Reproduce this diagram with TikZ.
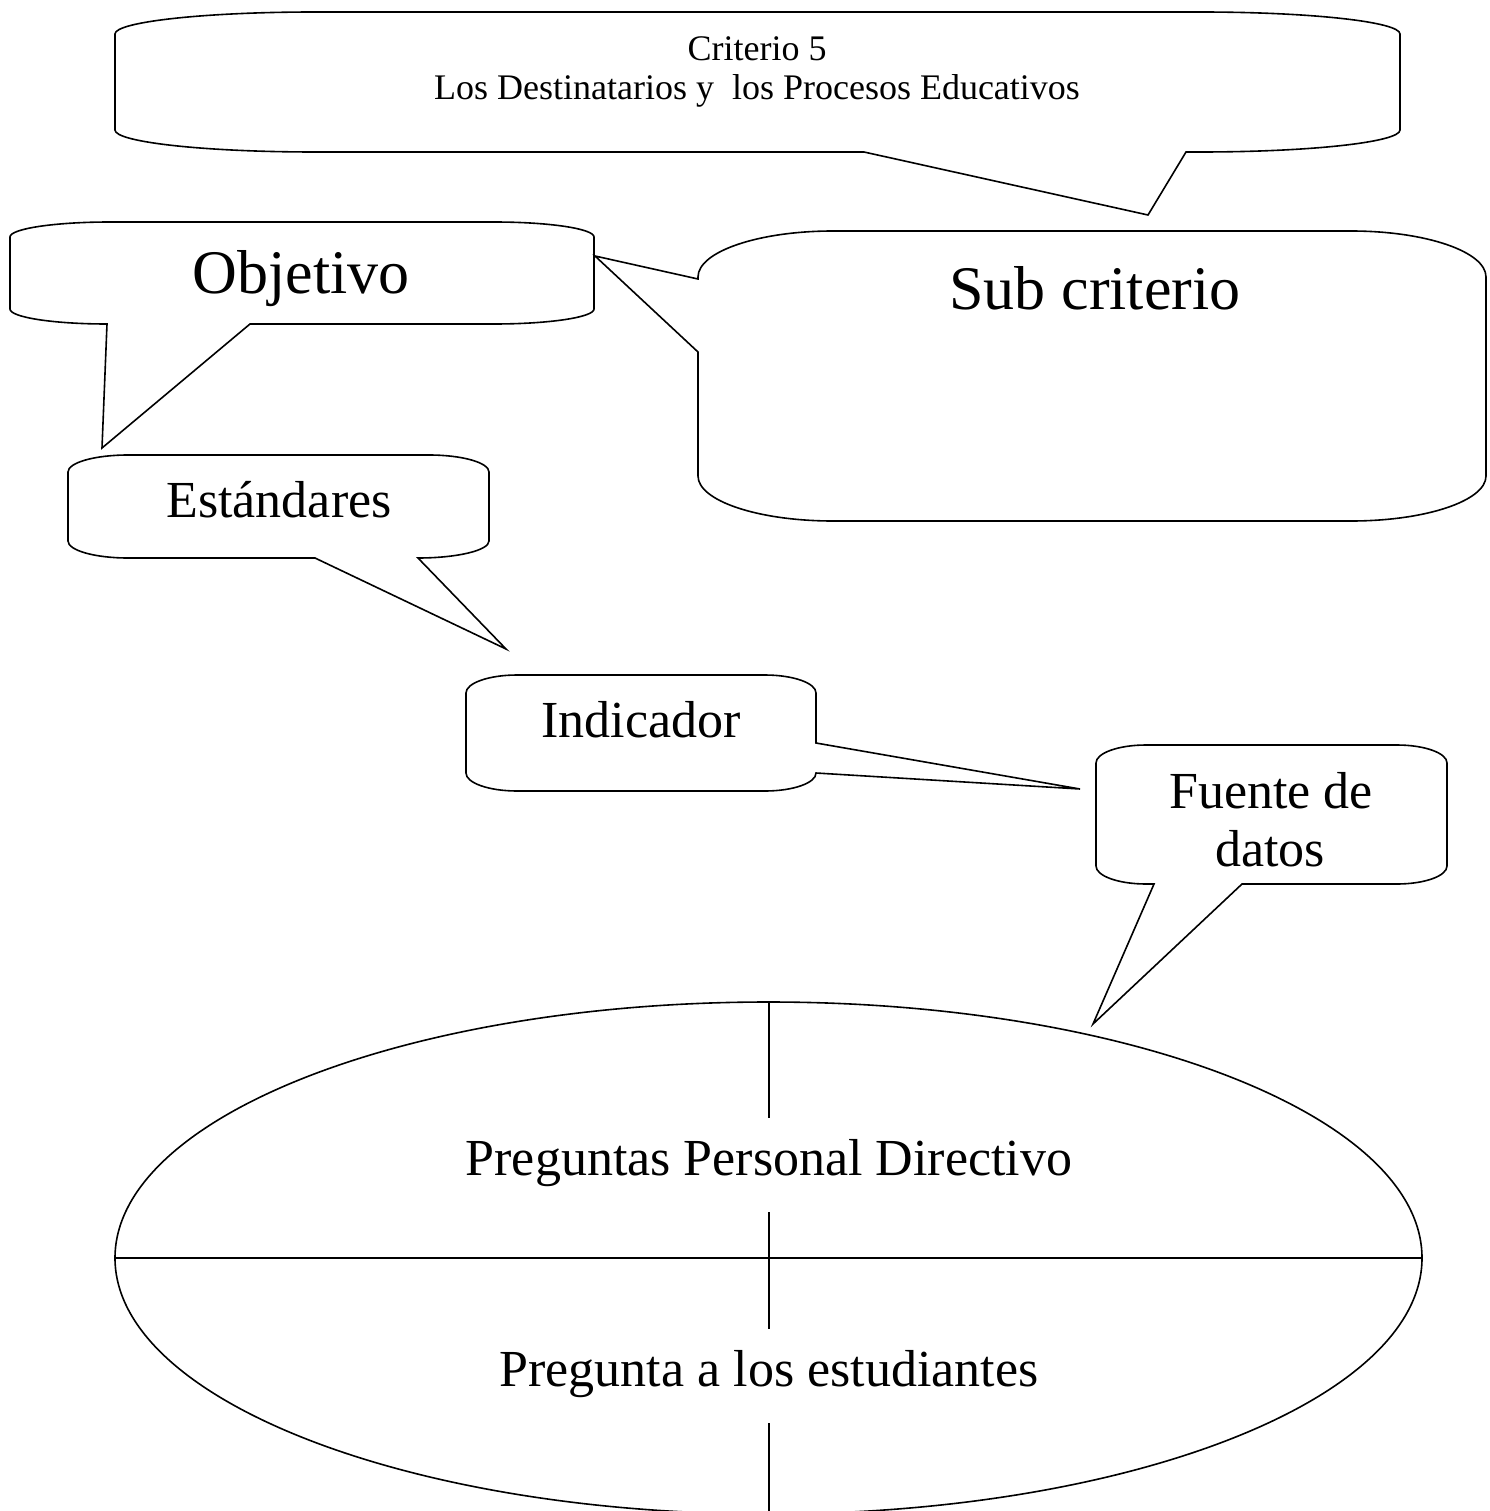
\documentclass[tikz,border=0pt]{standalone}
\usepackage{fontspec}
\setmainfont{Liberation Serif}
\begin{document}
\begin{tikzpicture}[x=1pt,y=-1pt,
  callout/.style={draw=black, line width=1.6pt, fill=white, line join=miter},
  txtS/.style={font=\fontsize{36}{41}\selectfont, inner sep=0pt, anchor=base},
  txtM/.style={font=\fontsize{52}{60}\selectfont, inner sep=0pt, anchor=base},
  txtL/.style={font=\fontsize{62}{70}\selectfont, inner sep=0pt, anchor=base},
  gaptxt/.style={font=\fontsize{52}{60}\selectfont, inner xsep=2pt, inner ysep=0pt,
                 anchor=base, fill=white, text height=57pt, text depth=37pt}]
\useasboundingbox (0,0) rectangle (1489,1511);
\clip (0,0) rectangle (1489,1511);

% Criterio 5 callout
\path[callout] (115,34) arc[start angle=180,end angle=270,x radius=200,y radius=22]
  -- (1200,12) arc[start angle=270,end angle=360,x radius=200,y radius=22]
  -- (1400,130) arc[start angle=0,end angle=90,x radius=200,y radius=22]
  -- (1186,152) -- (1148,215) -- (864,152)
  -- (315,152) arc[start angle=90,end angle=180,x radius=200,y radius=22]
  -- cycle;
\node[txtS] (crit1) at (757,61) {Criterio 5};
\node[txtS] (crit2) at (757,100) {Los Destinatarios y\ \ los Procesos Educativos};

% Objetivo callout
\path[callout] (10,237) arc[start angle=180,end angle=270,x radius=100,y radius=15]
  -- (494,222) arc[start angle=270,end angle=360,x radius=100,y radius=15]
  -- (594,309) arc[start angle=0,end angle=90,x radius=100,y radius=15]
  -- (250,324) -- (102,448) -- (107,324)
  arc[start angle=90,end angle=180,x radius=97,y radius=15]
  -- cycle;
\node[txtL] (obj) at (301,294) {Objetivo};

% Sub criterio callout
\path[callout] (698,277) arc[start angle=180,end angle=270,x radius=135,y radius=46]
  -- (1351,231) arc[start angle=270,end angle=360,x radius=135,y radius=46]
  -- (1486,476) arc[start angle=0,end angle=90,x radius=135,y radius=45]
  -- (833,521) arc[start angle=90,end angle=180,x radius=135,y radius=45]
  -- (698,352) -- (595,256) -- (698,279) -- cycle;
\node[txtL] (sub) at (1095,309) {Sub criterio};

% Estandares callout
\path[callout] (68,472) arc[start angle=180,end angle=270,x radius=60,y radius=17]
  -- (429,455) arc[start angle=270,end angle=360,x radius=60,y radius=17]
  -- (489,541) arc[start angle=0,end angle=90,x radius=71,y radius=17]
  -- (506,649) -- (315,558)
  -- (128,558) arc[start angle=90,end angle=180,x radius=60,y radius=17]
  -- cycle;
\node[txtM] (std) at (279,517) {Estándares};

% Indicador callout
\path[callout] (466,693) arc[start angle=180,end angle=270,x radius=51,y radius=18]
  -- (765,675) arc[start angle=270,end angle=360,x radius=51,y radius=18]
  -- (816,743) -- (1080,789) -- (816,773)
  arc[start angle=0,end angle=90,x radius=51,y radius=18]
  -- (517,791) arc[start angle=90,end angle=180,x radius=51,y radius=18]
  -- cycle;
\node[txtM] (ind) at (641,737) {Indicador};

% Fuente de datos callout
\path[callout] (1096,763) arc[start angle=180,end angle=270,x radius=50,y radius=18]
  -- (1397,745) arc[start angle=270,end angle=360,x radius=50,y radius=18]
  -- (1447,866) arc[start angle=0,end angle=90,x radius=50,y radius=18]
  -- (1242,884) -- (1093,1024) -- (1154,884)
  -- (1146,884) arc[start angle=90,end angle=180,x radius=50,y radius=18]
  -- cycle;
\node[txtM] (src1) at (1271,808) {Fuente de};
\node[txtM] (src2) at (1270,866) {datos};

% Ellipse with quadrants
\draw[line width=1.6pt, fill=white] (768.5,1258) ellipse[x radius=653.5, y radius=256];
\coordinate (eL) at (115,1258);
\coordinate (eR) at (1422,1258);
\coordinate (eT) at (769,1002);
\coordinate (eB) at (769,1514);
\draw[line width=2pt] (eL) -- (eR);
\draw[line width=1.2pt] (eT) -- (eB);
\node[gaptxt] (q1) at (769,1175) {Preguntas Personal Directivo};
\node[gaptxt] (q2) at (769,1386) {Pregunta a los estudiantes};
\end{tikzpicture}
\end{document}
